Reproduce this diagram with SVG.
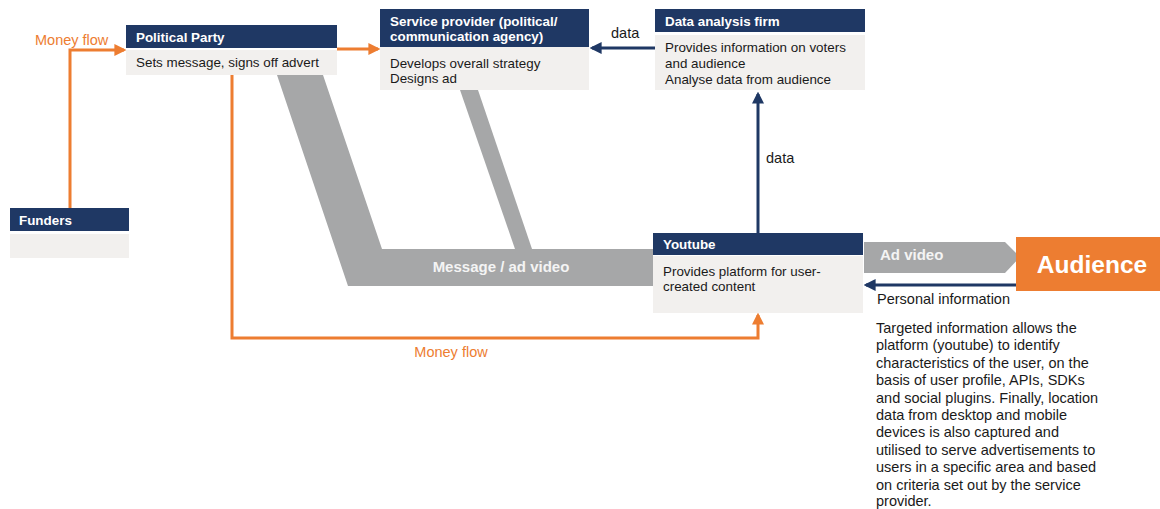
<svg xmlns="http://www.w3.org/2000/svg" width="1160" height="509" viewBox="0 0 1160 509">
<defs>
<style>
text{font-family:"Liberation Sans",Arial,sans-serif;font-size:13.4px;fill:#1a1a1a}
.hd{fill:#1f3864}
.bd{fill:#f2f0ee}
.ht{fill:#fff;font-weight:bold}
.or{stroke:#ed7d31;stroke-width:3;fill:none}
.nv{stroke:#1f3864;stroke-width:3;fill:none}
.ml{fill:#ed7d31;font-size:14.5px}
.lb{font-size:14.5px}
.bt{fill:#f4f4f4;font-weight:bold;font-size:15px}
.band{fill:#a6a7a8}
.note text{font-size:14.5px}
</style>
<marker id="ao" viewBox="0 0 10 10" refX="8" refY="5" markerWidth="4" markerHeight="4" orient="auto" markerUnits="strokeWidth"><path d="M0,0L10,5L0,10z" fill="#ed7d31"/></marker>
<marker id="an" viewBox="0 0 10 10" refX="8" refY="5" markerWidth="4" markerHeight="4" orient="auto" markerUnits="strokeWidth"><path d="M0,0L10,5L0,10z" fill="#1f3864"/></marker>
</defs>
<rect width="1160" height="509" fill="#fff"/>
<g id="connectors">
<polygon class="band" points="277,75 323,75 382,249 653,249 653,286 348,286"/>
<polygon class="band" points="460,90 478,90 532,249 515,249"/>
<text x="501" y="272" text-anchor="middle" class="bt">Message / ad video</text>
<path class="or" d="M70,208V50H124" marker-end="url(#ao)"/>
<text x="35" y="45" class="ml">Money flow</text>
<path class="or" d="M337,49H378" marker-end="url(#ao)"/>
<path class="or" d="M232,75V338H758V315" marker-end="url(#ao)"/>
<text x="451" y="357" text-anchor="middle" class="ml">Money flow</text>
<path class="nv" d="M655,48H592" marker-end="url(#an)"/>
<text x="611" y="38" class="lb">data</text>
<path class="nv" d="M758,233V94" marker-end="url(#an)"/>
<text x="766" y="163" class="lb">data</text>
<polygon class="band" points="864,242 1005,242 1020,257 1005,273 864,273"/>
<text x="880" y="260" class="bt">Ad video</text>
<path class="nv" d="M1016,285H866" marker-end="url(#an)"/>
<text x="877" y="304" class="lb">Personal information</text>
</g>
<g id="political-party">
<rect class="hd" x="126" y="25" width="211" height="23"/>
<rect class="bd" x="126" y="50" width="211" height="25"/>
<text x="136" y="42" class="ht">Political Party</text>
<text x="136" y="67">Sets message, signs off advert</text>
</g>
<g id="service-provider">
<rect class="hd" x="380" y="9" width="209" height="38"/>
<rect class="bd" x="380" y="47" width="209" height="43"/>
<text x="390" y="26" class="ht">Service provider (political/</text>
<text x="390" y="41" class="ht">communication agency)</text>
<text x="390" y="68">Develops overall strategy</text>
<text x="390" y="83">Designs ad</text>
</g>
<g id="data-analysis-firm">
<rect class="hd" x="655" y="9" width="210" height="23"/>
<rect class="bd" x="655" y="35" width="210" height="55"/>
<text x="665" y="26" class="ht">Data analysis firm</text>
<text x="665" y="52">Provides information on voters</text>
<text x="665" y="68">and audience</text>
<text x="665" y="84">Analyse data from audience</text>
</g>
<g id="funders">
<rect class="hd" x="10" y="208" width="119" height="23"/>
<rect class="bd" x="10" y="234" width="119" height="24"/>
<text x="19" y="225" class="ht">Funders</text>
</g>
<g id="youtube">
<rect class="hd" x="653" y="233" width="210" height="22"/>
<rect class="bd" x="653" y="256" width="210" height="57"/>
<text x="663" y="249" class="ht">Youtube</text>
<text x="663" y="276">Provides platform for user-</text>
<text x="663" y="291">created content</text>
</g>
<g id="audience">
<rect x="1016" y="237" width="144" height="54" fill="#ed7d31"/>
<text x="1092" y="273" text-anchor="middle" style="fill:#fff;font-weight:bold;font-size:24.5px">Audience</text>
</g>
<g id="note" class="note">
<text x="876" y="333">Targeted information allows the</text>
<text x="876" y="350.4">platform (youtube) to identify</text>
<text x="876" y="367.8">characteristics of the user, on the</text>
<text x="876" y="385.2">basis of user profile, APIs, SDKs</text>
<text x="876" y="402.6">and social plugins. Finally, location</text>
<text x="876" y="420">data from desktop and mobile</text>
<text x="876" y="437.4">devices is also captured and</text>
<text x="876" y="454.8">utilised to serve advertisements to</text>
<text x="876" y="472.2">users in a specific area and based</text>
<text x="876" y="489.6">on criteria set out by the service</text>
<text x="876" y="506">provider.</text>
</g>
</svg>
